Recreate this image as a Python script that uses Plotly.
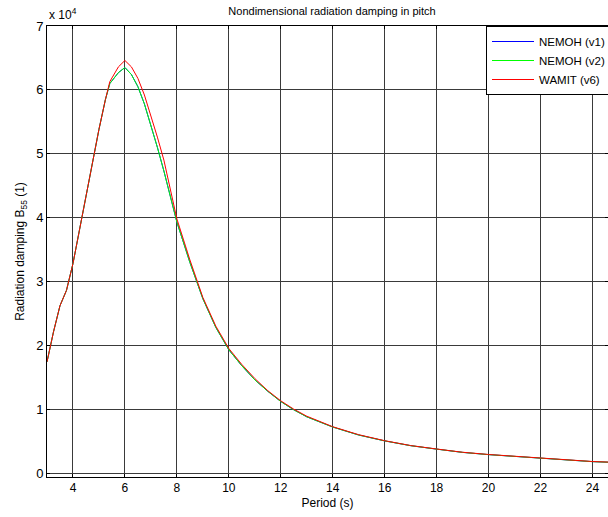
import plotly.graph_objects as go

period = [3.0, 3.25, 3.5, 3.75, 4.0, 4.25, 4.5, 4.75, 5.0, 5.25, 5.42, 5.75, 6.0, 6.25, 6.5,
          6.75, 7.0, 7.25, 7.5, 7.75, 8.0, 8.5, 9.0, 9.5, 10.0, 10.5, 11.0, 11.5, 12.0,
          12.5, 13.0, 14.0, 15.0, 16.0, 17.0, 18.0, 19.0, 20.0, 21.0, 22.0, 23.0, 24.0, 25.0]

wamit_v6 = [1.74, 2.21, 2.62, 2.86, 3.28, 3.80, 4.34, 4.88, 5.38, 5.85, 6.13, 6.36, 6.46, 6.36, 6.18,
            5.92, 5.60, 5.26, 4.90, 4.44, 3.98, 3.34, 2.75, 2.30, 1.95, 1.70, 1.48, 1.29, 1.13,
            1.00, 0.89, 0.725, 0.60, 0.506, 0.43, 0.376, 0.325, 0.29, 0.26, 0.23, 0.205, 0.18, 0.165]

nemoh_v2 = [1.74, 2.21, 2.62, 2.86, 3.28, 3.80, 4.34, 4.88, 5.38, 5.85, 6.10, 6.27, 6.35, 6.24, 6.05,
            5.78, 5.45, 5.10, 4.73, 4.33, 3.93, 3.30, 2.73, 2.28, 1.93, 1.68, 1.46, 1.28, 1.12,
            0.99, 0.88, 0.72, 0.595, 0.503, 0.428, 0.374, 0.323, 0.288, 0.258, 0.228, 0.203, 0.178, 0.163]

nemoh_v1 = list(nemoh_v2)

scale = 1e4
ytick_vals = [0, 1, 2, 3, 4, 5, 6, 7]
xtick_vals = [4, 6, 8, 10, 12, 14, 16, 18, 20, 22, 24]

fig = go.Figure()
for name, vals, col in [("NEMOH (v1)", nemoh_v1, "#0000FF"),
                        ("NEMOH (v2)", nemoh_v2, "#00FF00"),
                        ("WAMIT (v6)", wamit_v6, "#FF0000")]:
    fig.add_trace(go.Scatter(x=period, y=[v * scale for v in vals], mode="lines", name=name,
                             line=dict(color=col, width=1)))

font = "Liberation Sans, Arial, sans-serif"
fig.update_layout(
    width=608, height=517,
    margin=dict(l=47, r=0, t=26, b=40, autoexpand=False),
    paper_bgcolor="white", plot_bgcolor="white",
    font=dict(family=font, size=12, color="#000000"),
    title=dict(text="Nondimensional radiation damping in pitch", x=0.508, xanchor="center",
               xref="paper", yref="container",
               y=1 - 11 / 517, yanchor="middle", font=dict(size=11, family=font)),
    showlegend=True,
    legend=dict(x=(486 - 47) / 561, y=1, xanchor="left", yanchor="top",
                bgcolor="white", bordercolor="#000000", borderwidth=1,
                font=dict(size=11.5, family=font), tracegroupgap=0, itemwidth=42),
    xaxis=dict(range=[3.0, 24.6], tickvals=xtick_vals, ticks="inside", ticklen=3,
               tickcolor="#000000", showline=True, linecolor="#000000", linewidth=1, mirror="ticks",
               showgrid=True, gridcolor="#3a3a3a", gridwidth=1, zeroline=False, automargin=False,
               title=dict(text="Period (s)", standoff=4, font=dict(size=12)),
               tickfont=dict(size=12)),
    yaxis=dict(range=[-626, 70000], tickvals=[v * scale for v in ytick_vals],
               ticktext=[str(v) for v in ytick_vals], ticks="inside", ticklen=3,
               tickcolor="#000000", showline=True, linecolor="#000000", linewidth=1, mirror="ticks",
               showgrid=True, gridcolor="#3a3a3a", gridwidth=1, zeroline=False, automargin=False,
               title=dict(text="Radiation damping B<sub>55</sub> (1)", standoff=8, font=dict(size=12)),
               tickfont=dict(size=13)),
)
fig.add_annotation(text="x 10<sup>4</sup>", xref="paper", yref="paper", x=0.0, y=1.0, yshift=2,
                   xanchor="left", yanchor="bottom", showarrow=False, font=dict(size=12, family=font))

fig.write_html("out.html", config={"displayModeBar": False},
               post_script="document.body.style.margin='0px';")
